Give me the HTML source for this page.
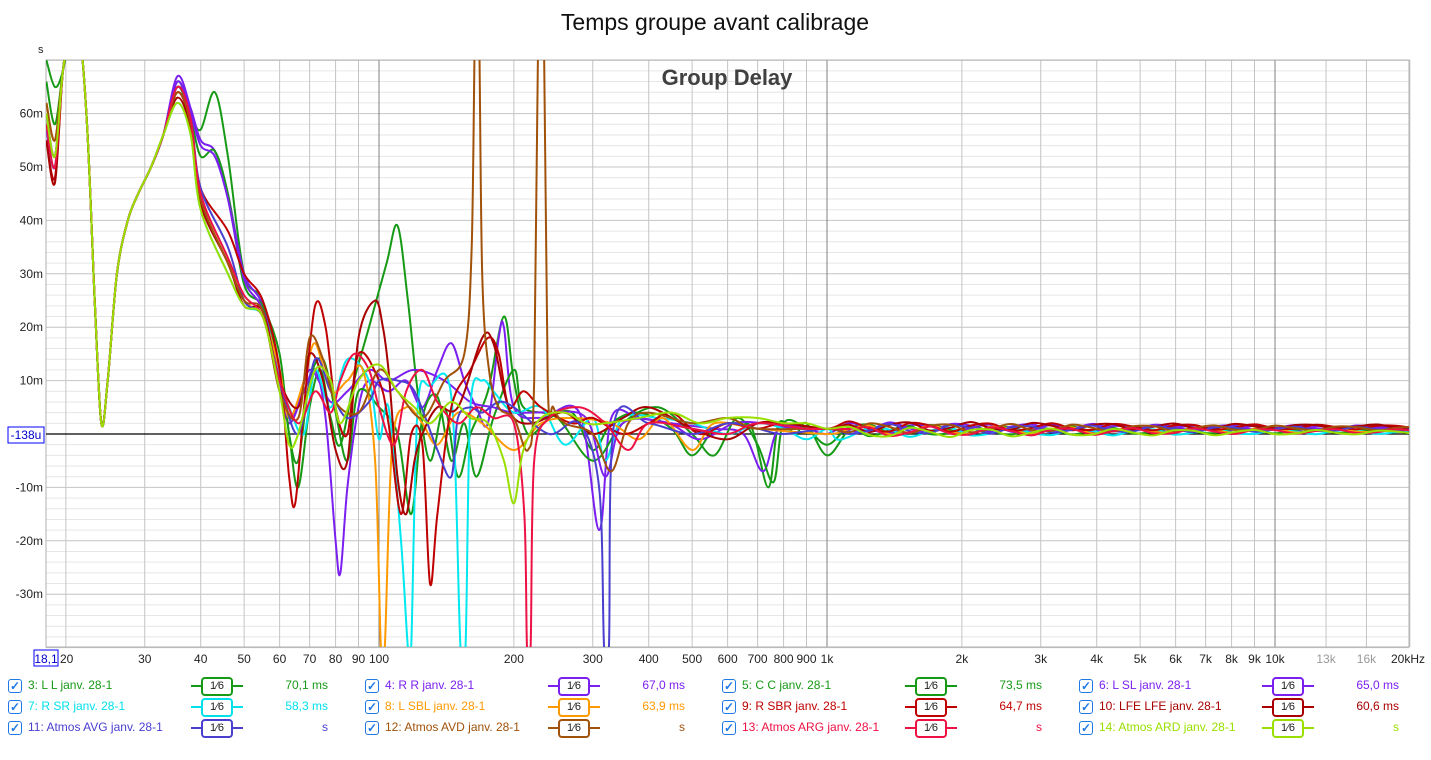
<!DOCTYPE html>
<html><head><meta charset="utf-8"><style>
body{margin:0;background:#fff;width:1431px;height:760px;overflow:hidden;font-family:"Liberation Sans",sans-serif;position:relative}
.lg{position:absolute;font-size:12px;white-space:nowrap}
.cb{position:absolute;width:12px;height:12px;border:1px solid #1e78e6;border-radius:3px;background:#fff;color:#1e78e6;font-size:12px;line-height:12px;text-align:center;font-weight:bold}
.fl{position:absolute;height:2px}
.fb{position:absolute;width:28px;height:15px;border:2px solid;border-radius:4px;background:#fff;color:#222;font-size:11px;text-align:center;line-height:15px}
</style></head><body>
<svg id="s" width="1431" height="760" style="position:absolute;left:0;top:0"></svg>
<div id="leg"></div>
<script>
const NS="http://www.w3.org/2000/svg";const S=document.getElementById('s');
function el(t,a,p){const e=document.createElementNS(NS,t);for(const k in a)e.setAttribute(k,a[k]);(p||S).appendChild(e);return e;}
const X=f=>379+448*Math.log10(f/100), Y=v=>434-5.34*v;
const L=46,R=1409,T=60,B=647;
for(let v=-40;v<=70;v+=2){const y=Y(v);el('line',{x1:L,x2:R,y1:y,y2:y,stroke:v%10==0?'#c4c4c4':'#e6e6e6','stroke-width':1});}
const fr=[20,30,40,50,60,70,80,90,100,200,300,400,500,600,700,800,900,1000,2000,3000,4000,5000,6000,7000,8000,9000,10000,13000,16000,20000];
for(const f of fr){const x=X(f);el('line',{x1:x,x2:x,y1:T,y2:B,stroke:(f==100||f==1000||f==10000)?'#808080':'#c4c4c4','stroke-width':1});}
el('rect',{x:L,y:T,width:R-L,height:B-T,fill:'none',stroke:'#b0b0b0'});
el('line',{x1:L,x2:R,y1:434,y2:434,stroke:'#000','stroke-width':1.2});
el('text',{x:715,y:30,'text-anchor':'middle','font-size':23,fill:'#111'}).textContent='Temps groupe avant calibrage';
el('text',{x:727,y:85,'text-anchor':'middle','font-size':22,'font-weight':'bold',fill:'#404040'}).textContent='Group Delay';
el('text',{x:38,y:53,'font-size':11,fill:'#222'}).textContent='s';
[[60,'60m'],[50,'50m'],[40,'40m'],[30,'30m'],[20,'20m'],[10,'10m'],[-10,'-10m'],[-20,'-20m'],[-30,'-30m']].forEach(([v,t])=>{el('text',{x:43,y:Y(v)+4,'text-anchor':'end','font-size':12,fill:'#222'}).textContent=t;});
el('rect',{x:8,y:427,width:36,height:16,fill:'#fff',stroke:'#0000ff'});
el('text',{x:26,y:439,'text-anchor':'middle','font-size':12,fill:'#0000cc'}).textContent='-138u';
const lab={20:'20',30:'30',40:'40',50:'50',60:'60',70:'70',80:'80',90:'90',100:'100',200:'200',300:'300',400:'400',500:'500',600:'600',700:'700',800:'800',900:'900',1000:'1k',2000:'2k',3000:'3k',4000:'4k',5000:'5k',6000:'6k',7000:'7k',8000:'8k',9000:'9k',10000:'10k',13000:'13k',16000:'16k',20000:'20kHz'};
for(const f of fr){let x=X(f);let a='middle';if(f==20){x=60;a='start'}if(f==20000){x=1391;a='start'}el('text',{x:x,y:663,'text-anchor':a,'font-size':12,fill:(f==13000||f==16000)?'#999':'#222'}).textContent=lab[f];}
el('rect',{x:34,y:650,width:24,height:16,fill:'#fff',stroke:'#0000ff'});
el('text',{x:46,y:663,'text-anchor':'middle','font-size':12,fill:'#0000cc'}).textContent='18,1';
const cp=el('clipPath',{id:'c'});el('rect',{x:L,y:T,width:R-L,height:B-T},cp);
const g=el('g',{'clip-path':'url(#c)'});
function head(h0,h1,h35){return [[18.1,h0],[18.9,h1],[19.7,68],[20.5,76],[21.4,76],[22.3,58],[23.2,25],[24,2],[24.8,10],[26,30],[27.5,40],[29,45],[31,50],[33,56],[35.5,h35-1],[38,h35-7]];}
const SER=[
['#169a16',70,65,67,[[40,57],[43,64],[46,52],[50,30],[55,25],[60,12],[63,0],[66,-10],[70,5],[74,12],[78,3],[82,-2],[88,10],[95,20],[104,32],[110,39],[116,25],[122,8],[130,-5],[140,5],[150,-8],[160,0],[175,8],[190,22],[200,10],[215,0],[240,3],[270,4],[300,-3],[330,2],[380,4],[450,1],[500,-4],[560,1],[620,2],[680,1],[740,-10],[780,2],[850,0],[900,2],[1000,-4]],0.8],
['#7a1ff0',60,52,68,[[40,55],[43,53],[46,45],[50,30],[55,24],[60,10],[63,2],[68,8],[72,12],[76,3],[80,-20],[82,-26],[85,-10],[90,5],[95,10],[105,8],[115,10],[125,5],[135,12],[145,17],[155,10],[165,5],[175,2],[185,18],[190,20],[200,5],[230,3],[280,4],[310,-18],[330,3],[380,3],[450,2],[560,1],[650,0],[720,-7],[780,1],[900,1],[1000,0]],1.0],
['#169a16',66,58,66,[[40,52],[43,53],[46,45],[50,28],[55,24],[60,15],[63,0],[66,-5],[70,10],[75,14],[80,4],[85,-5],[90,8],[100,5],[110,0],[118,-15],[125,3],[135,7],[145,-5],[155,2],[165,-8],[180,3],[200,12],[210,5],[250,3],[300,-5],[350,2],[420,5],[500,0],[560,-4],[630,3],[700,-2],[760,-9],[800,2],[900,1],[1000,-2]],0.6],
['#7a1ff0',57,50,67,[[40,54],[43,52],[46,44],[50,29],[55,23],[60,8],[64,3],[70,12],[78,6],[85,8],[95,12],[105,10],[120,12],[140,10],[160,6],[180,5],[200,4],[240,4],[290,3],[320,-8],[350,2],[440,2],[520,-1],[620,2],[720,2],[850,1],[1000,1]],1.2],
['#00e8f0',58,50,63,[[40,42],[46,30],[50,24],[55,22],[60,10],[63,5],[68,0],[72,12],[78,5],[85,14],[95,10],[100,-1],[105,5],[112,-20],[116,-40],[118,-40],[122,5],[130,9],[145,7],[152,-40],[156,-40],[160,5],[170,10],[180,8],[200,4],[230,5],[260,-2],[300,3],[320,-5],[350,3],[420,3],[500,2],[600,0],[700,2],[800,1],[900,-1],[1000,1],[1050,-1]],0.4],
['#ff9900',62,55,65,[[40,44],[46,32],[50,25],[55,22],[60,12],[63,3],[68,10],[72,17],[78,8],[85,10],[92,12],[98,-5],[101,-40],[103,-40],[107,-2],[115,5],[125,2],[135,-2],[150,4],[170,2],[200,-3],[230,2],[270,3],[330,2],[380,-1],[430,3],[500,-3],[560,2],[700,1],[1000,0]],0.7],
['#c00000',55,48,65,[[40,46],[46,38],[50,30],[55,25],[60,12],[63,-8],[65,-13],[68,5],[72,24],[76,20],[80,5],[85,0],[90,15],[100,10],[105,2],[112,-15],[118,0],[125,-2],[130,-28],[135,-15],[145,5],[160,12],[175,18],[185,15],[195,5],[210,8],[230,5],[270,2],[300,3],[350,0],[400,2],[450,4],[520,0],[600,2],[700,1],[800,2],[1000,1]],1.3],
['#a80000',55,47,64,[[40,43],[46,32],[50,24],[55,23],[60,10],[66,5],[70,15],[75,10],[80,-3],[85,-5],[90,18],[98,25],[102,20],[105,12],[110,-8],[115,-15],[120,-5],[125,0],[135,5],[150,5],[170,18],[180,17],[190,8],[200,3],[220,2],[260,4],[300,0],[350,3],[400,5],[500,1],[600,-1],[700,2],[800,2],[1000,1]],1.4],
['#4a3fcf',60,52,66,[[40,46],[46,35],[50,25],[55,22],[60,10],[66,0],[72,14],[78,8],[85,3],[95,6],[100,10],[110,10],[120,8],[135,-3],[145,-8],[150,3],[160,5],[170,4],[185,6],[200,5],[240,0],[280,2],[310,-10],[318,-40],[326,-40],[335,2],[400,2],[500,0],[600,2],[700,1],[800,0],[1000,1]],0.9],
['#a0520a',62,55,65,[[40,44],[46,32],[50,25],[55,23],[60,8],[66,3],[70,18],[75,14],[80,6],[90,4],[100,12],[110,8],[125,3],[140,10],[155,15],[161,35],[164,80],[167,80],[170,30],[176,12],[185,5],[200,3],[215,-3],[222,10],[227,80],[233,80],[238,10],[245,5],[260,2],[300,0],[330,-7],[360,2],[400,4],[500,2],[600,3],[700,1],[1000,1]],1.1],
['#ee1144',58,50,66,[[40,45],[46,33],[50,26],[55,22],[60,10],[66,2],[72,8],[78,4],[82,10],[88,15],[95,12],[100,5],[108,-2],[115,8],[125,12],[135,6],[150,2],[165,5],[180,3],[200,2],[211,-15],[214,-40],[218,-40],[222,-5],[240,3],[280,5],[320,2],[360,-3],[400,2],[500,1],[600,0],[700,2],[900,1],[1000,1]],0.5],
['#99e000',60,52,63,[[40,42],[46,30],[50,24],[55,22],[60,8],[63,-2],[66,0],[72,12],[78,10],[82,2],[90,10],[100,13],[110,8],[120,5],[130,2],[145,6],[160,3],[175,2],[190,-5],[200,-13],[210,-3],[230,3],[260,4],[290,2],[320,2],[380,3],[450,4],[520,2],[600,3],[700,3],[800,2],[900,2],[1000,1]],0.3]
];
SER.forEach((s,i)=>{
 let pts=head(s[1],s[2],s[3]).concat(s[4]);
 let k=0;for(let f=1120;f<=21000;f*=1.11,k++){const a=1.1*Math.pow(1000/f,0.35);pts.push([f,s[5]+a*Math.sin(k*1.9+i*1.3)]);}
 const P=pts.map(p=>[X(p[0]),Y(p[1])]);
 let d='M'+P[0][0].toFixed(1)+','+P[0][1].toFixed(1);
 for(let j=0;j<P.length-1;j++){const p0=P[Math.max(0,j-1)],p1=P[j],p2=P[j+1],p3=P[Math.min(P.length-1,j+2)];
  const c1=[p1[0]+(p2[0]-p0[0])/6,p1[1]+(p2[1]-p0[1])/6],c2=[p2[0]-(p3[0]-p1[0])/6,p2[1]-(p3[1]-p1[1])/6];
  d+='C'+c1.map(v=>v.toFixed(1))+' '+c2.map(v=>v.toFixed(1))+' '+p2.map(v=>v.toFixed(1));}
 el('path',{d:d,fill:'none',stroke:s[0],'stroke-width':2,'stroke-linejoin':'round'},g);
});
const LG=[['3: L L janv. 28-1','#169a16','70,1 ms'],['4: R R janv. 28-1','#7a1ff0','67,0 ms'],['5: C C janv. 28-1','#169a16','73,5 ms'],['6: L SL janv. 28-1','#7a1ff0','65,0 ms'],
['7: R SR janv. 28-1','#00e0ea','58,3 ms'],['8: L SBL janv. 28-1','#ff9900','63,9 ms'],['9: R SBR janv. 28-1','#c00000','64,7 ms'],['10: LFE LFE janv. 28-1','#a80000','60,6 ms'],
['11: Atmos AVG janv. 28-1','#4a3fcf','s'],['12: Atmos AVD janv. 28-1','#a0520a','s'],['13: Atmos ARG janv. 28-1','#ee1144','s'],['14: Atmos ARD janv. 28-1','#99e000','s']];
let h='';
LG.forEach((e,i)=>{const c=i%4,r=Math.floor(i/4);const x=8+c*357,y=686+r*21;
 h+=`<div class="cb" style="left:${x}px;top:${y-7}px">✓</div>`;
 h+=`<div class="lg" style="left:${x+20}px;top:${y-8}px;color:${e[1]}">${e[0]}</div>`;
 h+=`<div class="fl" style="left:${x+183}px;top:${y-1}px;width:52px;background:${e[1]}"></div>`;
 h+=`<div class="fb" style="left:${x+193}px;top:${y-9}px;border-color:${e[1]}">1⁄6</div>`;
 h+=`<div class="lg" style="left:${x+220}px;width:100px;text-align:right;top:${y-8}px;color:${e[1]}">${e[2]}</div>`;});
document.getElementById('leg').innerHTML=h;
</script>
</body></html>
